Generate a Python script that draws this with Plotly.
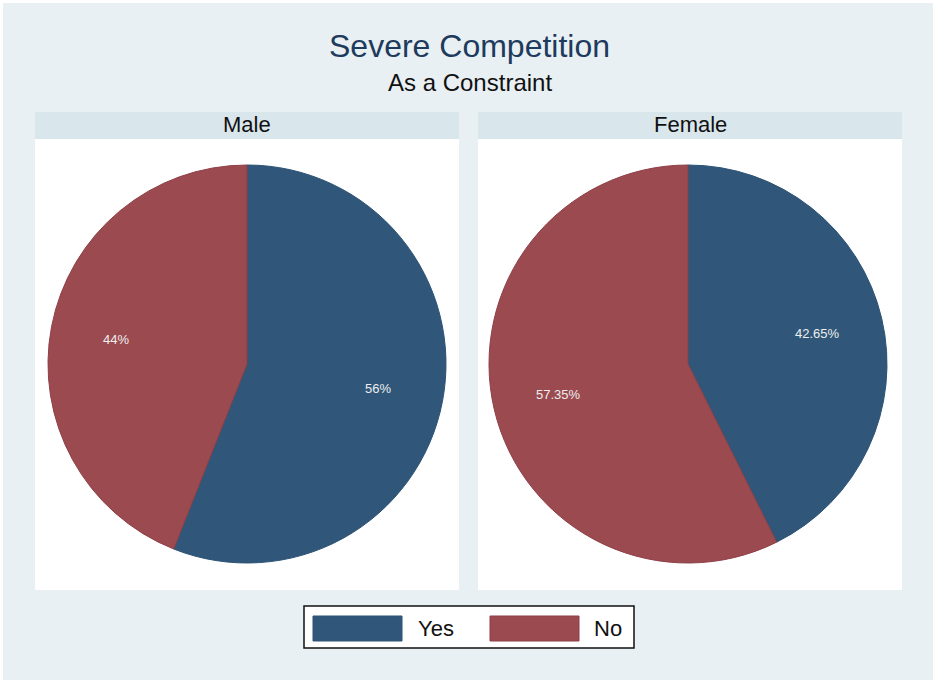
import math
import plotly.graph_objects as go

# ---- data ----
groups = ["Male", "Female"]
categories = ["Yes", "No"]
male_values = [56, 44]
female_values = [42.65, 57.35]
colors = ["#30577a", "#9b4a50"]
line_colors = ["#2c5275", "#8e3f46"]

title_text = "Severe Competition"
subtitle_text = "As a Constraint"

W, H = 936, 683
FONT = "Liberation Sans, Arial, sans-serif"


def px_x(x):
    return x / W


def px_y(y):
    return 1 - y / H


fig = go.Figure()

panels = [(35, 459), (478, 902)]
centers = [247, 688]
R = 199
cy = 364
LABEL_R = 0.67
series = [male_values, female_values]

shapes = []
annotations = []

for (x0, x1), cx, vals, name in zip(panels, centers, series, groups):
    fig.add_trace(go.Pie(
        labels=categories,
        values=vals,
        sort=False,
        direction="clockwise",
        rotation=0,
        marker=dict(colors=colors, line=dict(color=line_colors, width=1)),
        textinfo="none",
        domain=dict(x=[px_x(cx - R), px_x(cx + R)], y=[px_y(cy + R), px_y(cy - R)]),
        hoverinfo="label+percent",
        showlegend=False,
        name=name,
    ))
    # percentage labels placed along each slice's mid-angle
    total = sum(vals)
    cum = 0.0
    for v in vals:
        mid = (cum + v / 2) / total * 2 * math.pi
        cum += v
        lx = cx + LABEL_R * R * math.sin(mid)
        ly = cy - LABEL_R * R * math.cos(mid)
        annotations.append(dict(text=f"{v:g}%", x=px_x(lx), y=px_y(ly), xref="paper", yref="paper",
                                showarrow=False, font=dict(family=FONT, size=13, color="#eeeeee"),
                                xanchor="center", yanchor="middle"))

# outer background
shapes.append(dict(type="rect", xref="paper", yref="paper", x0=px_x(3), x1=px_x(933),
                   y0=px_y(680), y1=px_y(3), fillcolor="#e8f0f3", line=dict(width=0), layer="below"))
for (x0, x1), name in zip(panels, groups):
    shapes.append(dict(type="rect", xref="paper", yref="paper", x0=px_x(x0), x1=px_x(x1),
                       y0=px_y(139), y1=px_y(112), fillcolor="#d9e6ec", line=dict(width=0), layer="below"))
    shapes.append(dict(type="rect", xref="paper", yref="paper", x0=px_x(x0), x1=px_x(x1),
                       y0=px_y(590), y1=px_y(139), fillcolor="#ffffff", line=dict(width=0), layer="below"))
    annotations.append(dict(text=name, x=px_x((x0 + x1) / 2), y=px_y(124), xref="paper", yref="paper",
                            showarrow=False, font=dict(family=FONT, size=22, color="#111111"),
                            xanchor="center", yanchor="middle"))

annotations.append(dict(text=title_text, x=px_x(469), y=px_y(46), xref="paper", yref="paper", showarrow=False,
                        font=dict(family=FONT, size=32, color="#1e3a5c"), xanchor="center", yanchor="middle"))
annotations.append(dict(text=subtitle_text, x=px_x(470), y=px_y(82), xref="paper", yref="paper", showarrow=False,
                        font=dict(family=FONT, size=24, color="#111111"), xanchor="center", yanchor="middle"))

# legend (manual, large swatches)
shapes.append(dict(type="rect", xref="paper", yref="paper", x0=px_x(304), x1=px_x(634),
                   y0=px_y(648), y1=px_y(606), fillcolor="#ffffff", line=dict(color="#111111", width=1.5)))
sw_x = [313, 490]
lab_x = [416, 592]
for i, cat in enumerate(categories):
    shapes.append(dict(type="rect", xref="paper", yref="paper", x0=px_x(sw_x[i]), x1=px_x(sw_x[i] + 89),
                       y0=px_y(641), y1=px_y(616), fillcolor=colors[i], line=dict(color=line_colors[i], width=1)))
    annotations.append(dict(text=cat, x=px_x(lab_x[i]), y=px_y(628), xref="paper", yref="paper",
                            showarrow=False, font=dict(family=FONT, size=22, color="#111111"),
                            xanchor="left", yanchor="middle"))

fig.update_layout(
    width=W, height=H,
    margin=dict(l=0, r=0, t=0, b=0),
    paper_bgcolor="#ffffff",
    plot_bgcolor="#ffffff",
    shapes=shapes,
    annotations=annotations,
    showlegend=False,
)

fig.write_html("out.html", config={"displayModeBar": False},
               post_script="document.body.style.margin='0';")
